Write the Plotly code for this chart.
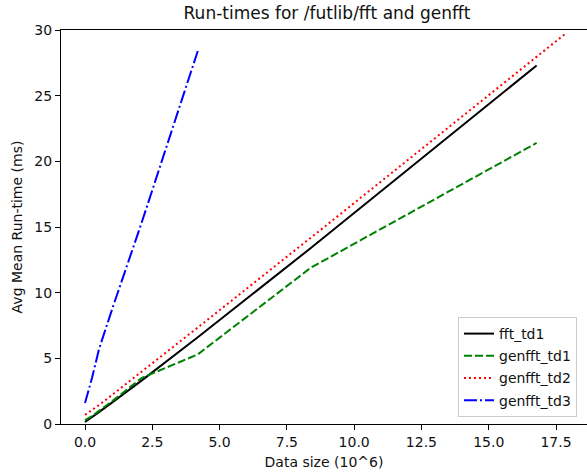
import plotly.graph_objects as go

# Data (x in millions of elements, y in ms)
x_fft_td1 = [0.0, 0.26, 0.52, 1.05, 2.10, 4.19, 8.39, 16.78]
y_fft_td1 = [0.15, 0.5, 0.9, 1.7, 3.3, 6.6, 13.4, 27.3]

x_genfft_td1 = [0.0, 0.26, 0.52, 1.05, 2.10, 4.19, 8.39, 16.78]
y_genfft_td1 = [0.3, 0.6, 1.0, 1.8, 3.5, 5.3, 11.9, 21.4]

x_genfft_td2 = [0.0, 0.56, 1.12, 2.24, 4.47, 8.95, 17.9]
y_genfft_td2 = [0.7, 1.5, 2.4, 4.2, 7.8, 15.1, 29.8]

x_genfft_td3 = [0.0, 0.26, 0.52, 1.05, 2.10, 4.19]
y_genfft_td3 = [1.6, 3.5, 5.7, 9.0, 15.3, 28.4]

series = [
    ("fft_td1", x_fft_td1, y_fft_td1, "black", "solid"),
    ("genfft_td1", x_genfft_td1, y_genfft_td1, "green", "8px,3px"),
    ("genfft_td2", x_genfft_td2, y_genfft_td2, "red", "2px,3px"),
    ("genfft_td3", x_genfft_td3, y_genfft_td3, "blue", "13px,3px,2px,3px"),
]

x_ticks = [0.0, 2.5, 5.0, 7.5, 10.0, 12.5, 15.0, 17.5]
x_tick_labels = ["0.0", "2.5", "5.0", "7.5", "10.0", "12.5", "15.0", "17.5"]
y_ticks = [0, 5, 10, 15, 20, 25, 30]

FONT = "DejaVu Sans"
TXT = "#111"

fig = go.Figure()
for name, xs, ys, color, dash in series:
    fig.add_trace(go.Scatter(
        x=xs, y=ys, name=name, mode="lines", legendgroup=name,
        line=dict(color=color, dash=dash, width=2),
    ))

PL, PR, PT, PB = 61, 587, 30, 424
W, H = 587, 474
pw, ph = PR - PL, PB - PT

fig.update_layout(
    width=W, height=H,
    margin=dict(l=PL, r=W - PR, t=PT, b=H - PB, autoexpand=False),
    paper_bgcolor="white", plot_bgcolor="white",
    font=dict(family=FONT, size=14, color=TXT),
    title=dict(text="Run-times for /futlib/fft and genfft",
               x=(327 - PL) / pw, xref="paper", xanchor="center",
               y=1 - 13 / H, yref="container", yanchor="middle",
               font=dict(family=FONT, size=17, color=TXT)),
    showlegend=True,
    legend=dict(
        x=(577 - PL) / pw, xref="paper", xanchor="right",
        y=(PB - 417) / ph, yref="paper", yanchor="bottom",
        bgcolor="rgba(255,255,255,0.8)", bordercolor="#cccccc", borderwidth=1,
        font=dict(family=FONT, size=14, color=TXT),
        itemwidth=30, tracegroupgap=1,
    ),
)

fig.update_xaxes(
    range=[-0.892, 18.652],
    tickvals=x_ticks, ticktext=x_tick_labels,
    showgrid=False, zeroline=False,
    showline=True, linecolor="black", linewidth=1, mirror=True,
    ticks="outside", ticklen=5, tickcolor="black", tickwidth=1,
    title=dict(text="Data size (10^6)", standoff=8,
               font=dict(family=FONT, size=14, color=TXT)),
)
fig.update_yaxes(
    range=[0, 30],
    tickvals=y_ticks,
    showgrid=False, zeroline=False,
    showline=True, linecolor="black", linewidth=1, mirror=False,
    ticks="outside", ticklen=5, tickcolor="black", tickwidth=1,
    title=dict(text="Avg Mean Run-time (ms)", standoff=8,
               font=dict(family=FONT, size=14, color=TXT)),
)

fig.write_html("out.html")
